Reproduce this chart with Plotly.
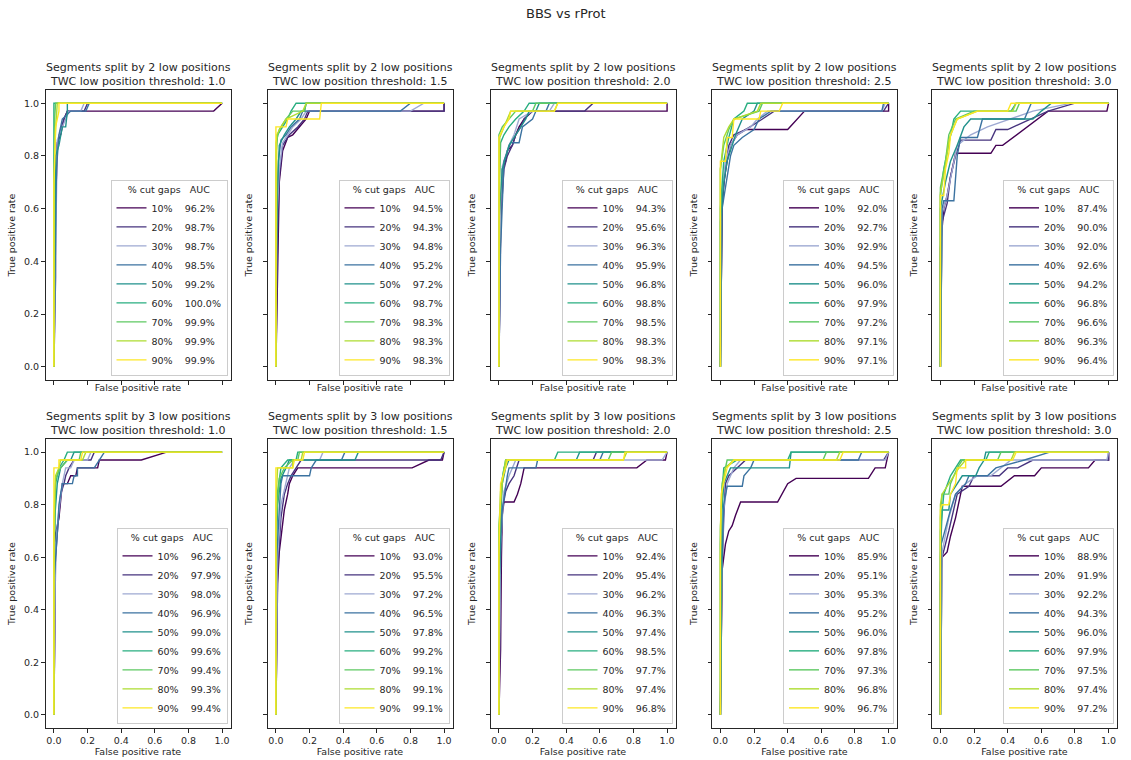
import plotly.graph_objects as go

# ---------------- data ----------------
CUT_GAPS = [10, 20, 30, 40, 50, 60, 70, 80, 90]
LOW_POSITIONS = [2, 3]
THRESHOLDS = [1.0, 1.5, 2.0, 2.5, 3.0]
TICKS = [0.0, 0.2, 0.4, 0.6, 0.8, 1.0]
COLORS = ["#440154", "#46337e", "#9ea9d2", "#3b72a0", "#21918c",
          "#28ae80", "#5ec962", "#addc30", "#fde725"]

AUC_2_10 = [96.2, 98.7, 98.7, 98.5, 99.2, 100.0, 99.9, 99.9, 99.9]
AUC_2_15 = [94.5, 94.3, 94.8, 95.2, 97.2, 98.7, 98.3, 98.3, 98.3]
AUC_2_20 = [94.3, 95.6, 96.3, 95.9, 96.8, 98.8, 98.5, 98.3, 98.3]
AUC_2_25 = [92.0, 92.7, 92.9, 94.5, 96.0, 97.9, 97.2, 97.1, 97.1]
AUC_2_30 = [87.4, 90.0, 92.0, 92.6, 94.2, 96.8, 96.6, 96.3, 96.4]
AUC_3_10 = [96.2, 97.9, 98.0, 96.9, 99.0, 99.6, 99.4, 99.3, 99.4]
AUC_3_15 = [93.0, 95.5, 97.2, 96.5, 97.8, 99.2, 99.1, 99.1, 99.1]
AUC_3_20 = [92.4, 95.4, 96.2, 96.3, 97.4, 98.5, 97.7, 97.4, 96.8]
AUC_3_25 = [85.9, 95.1, 95.3, 95.2, 96.0, 97.8, 97.3, 96.8, 96.7]
AUC_3_30 = [88.9, 91.9, 92.2, 94.3, 96.0, 97.9, 97.5, 97.4, 97.2]

# ROC curves, one list of (FPR, TPR) points per % cut gaps
ROC_2_10 = [
    [(0, 0), (0, 0.15), (0.01, 0.6), (0.02, 0.85), (0.04, 0.88), (0.06, 0.94), (0.08, 0.97), (0.95, 0.97), (1.0, 1.0)],
    [(0, 0), (0.01, 0.34), (0.01, 0.6), (0.02, 0.84), (0.04, 0.9), (0.06, 0.94), (0.08, 0.97), (0.18, 0.97), (0.2, 1.0), (1, 1)],
    [(0, 0), (0.01, 0.5), (0.02, 0.86), (0.05, 0.91), (0.07, 0.94), (0.09, 0.97), (0.16, 0.97), (0.18, 1.0), (1, 1)],
    [(0, 0), (0.01, 0.4), (0.015, 0.75), (0.03, 0.88), (0.05, 0.94), (0.1, 0.97), (0.19, 0.97), (0.21, 1.0), (1, 1)],
    [(0, 0), (0.005, 0.43), (0.01, 0.8), (0.03, 0.84), (0.05, 0.91), (0.07, 0.91), (0.08, 0.97), (0.08, 1.0), (1, 1)],
    [(0, 0), (0, 1.0), (1, 1)],
    [(0, 0), (0, 0.65), (0.005, 0.95), (0.01, 1.0), (1, 1)],
    [(0, 0), (0, 0.68), (0.01, 0.9), (0.02, 1.0), (1, 1)],
    [(0, 0), (0, 0.69), (0.01, 0.91), (0.03, 0.97), (0.03, 1.0), (1, 1)],
]
ROC_2_15 = [
    [(0, 0), (0.01, 0.45), (0.02, 0.7), (0.04, 0.82), (0.07, 0.87), (0.1, 0.88), (0.14, 0.91), (0.18, 0.94), (0.2, 0.97), (1.0, 0.97), (1.0, 1.0)],
    [(0, 0), (0.01, 0.5), (0.02, 0.72), (0.04, 0.84), (0.08, 0.88), (0.13, 0.91), (0.17, 0.94), (0.19, 0.97), (1.0, 0.97), (1.0, 1.0)],
    [(0, 0), (0.005, 0.55), (0.02, 0.75), (0.04, 0.85), (0.07, 0.88), (0.1, 0.91), (0.15, 0.94), (0.18, 0.97), (0.8, 0.97), (0.88, 1.0), (1, 1)],
    [(0, 0), (0.005, 0.6), (0.015, 0.78), (0.03, 0.86), (0.06, 0.88), (0.09, 0.91), (0.14, 0.94), (0.16, 0.97), (0.74, 0.97), (0.8, 1.0), (1, 1)],
    [(0, 0), (0, 0.3), (0.01, 0.7), (0.02, 0.84), (0.05, 0.88), (0.08, 0.91), (0.12, 0.94), (0.15, 0.97), (0.17, 0.97), (0.18, 1.0), (1, 1)],
    [(0, 0), (0, 0.8), (0.01, 0.88), (0.04, 0.91), (0.07, 0.94), (0.09, 0.97), (0.12, 1.0), (1, 1)],
    [(0, 0), (0, 0.85), (0.02, 0.9), (0.06, 0.94), (0.1, 0.97), (0.17, 0.97), (0.18, 1.0), (1, 1)],
    [(0, 0), (0.005, 0.88), (0.03, 0.91), (0.06, 0.94), (0.16, 0.97), (0.18, 1.0), (1, 1)],
    [(0, 0), (0, 0.91), (0.06, 0.91), (0.07, 0.94), (0.26, 0.94), (0.27, 1.0), (1, 1)],
]
ROC_2_20 = [
    [(0, 0), (0.01, 0.5), (0.02, 0.75), (0.04, 0.78), (0.05, 0.82), (0.08, 0.84), (0.1, 0.88), (0.12, 0.91), (0.15, 0.94), (0.2, 0.97), (1.0, 0.97), (1, 1)],
    [(0, 0), (0.01, 0.55), (0.03, 0.75), (0.05, 0.8), (0.08, 0.84), (0.1, 0.88), (0.13, 0.91), (0.15, 0.94), (0.2, 0.97), (0.51, 0.97), (0.56, 1.0), (1, 1)],
    [(0, 0), (0.01, 0.6), (0.02, 0.76), (0.06, 0.84), (0.09, 0.88), (0.12, 0.94), (0.2, 0.97), (0.3, 0.97), (0.33, 1.0), (1, 1)],
    [(0, 0), (0.01, 0.45), (0.03, 0.78), (0.07, 0.85), (0.12, 0.85), (0.14, 0.91), (0.2, 0.94), (0.22, 0.97), (0.28, 0.97), (0.3, 1.0), (1, 1)],
    [(0, 0), (0, 0.55), (0.02, 0.75), (0.06, 0.84), (0.1, 0.88), (0.13, 0.91), (0.16, 0.94), (0.18, 0.97), (0.22, 0.97), (0.24, 1.0), (1, 1)],
    [(0, 0), (0, 0.62), (0.01, 0.85), (0.03, 0.88), (0.06, 0.91), (0.1, 0.94), (0.15, 0.97), (0.18, 1.0), (1, 1)],
    [(0, 0), (0, 0.88), (0.02, 0.91), (0.06, 0.94), (0.1, 0.97), (0.2, 0.97), (0.22, 1.0), (1, 1)],
    [(0, 0), (0.005, 0.87), (0.03, 0.91), (0.05, 0.94), (0.07, 0.97), (0.33, 0.97), (0.35, 1.0), (1, 1)],
    [(0, 0), (0, 0.87), (0.03, 0.91), (0.06, 0.94), (0.07, 0.97), (0.33, 0.97), (0.35, 1.0), (1, 1)],
]
ROC_2_25 = [
    [(0, 0), (0.01, 0.6), (0.02, 0.7), (0.04, 0.78), (0.06, 0.84), (0.1, 0.88), (0.15, 0.9), (0.4, 0.9), (0.5, 0.97), (1, 0.97), (1, 1)],
    [(0, 0), (0.01, 0.62), (0.03, 0.75), (0.05, 0.84), (0.08, 0.88), (0.15, 0.9), (0.25, 0.94), (0.32, 0.97), (0.97, 0.97), (1, 1)],
    [(0, 0), (0.005, 0.63), (0.03, 0.78), (0.06, 0.84), (0.1, 0.88), (0.18, 0.91), (0.22, 0.94), (0.28, 0.97), (0.96, 0.97), (0.98, 1.0), (1, 1)],
    [(0, 0), (0.01, 0.6), (0.04, 0.72), (0.06, 0.8), (0.08, 0.84), (0.13, 0.87), (0.2, 0.9), (0.23, 0.94), (0.3, 0.97), (0.96, 0.97), (0.97, 1.0), (1, 1)],
    [(0, 0), (0, 0.55), (0.02, 0.7), (0.04, 0.78), (0.07, 0.84), (0.09, 0.88), (0.13, 0.94), (0.2, 0.97), (0.22, 1.0), (1, 1)],
    [(0, 0), (0, 0.6), (0.02, 0.78), (0.05, 0.87), (0.08, 0.94), (0.14, 0.97), (0.16, 1.0), (1, 1)],
    [(0, 0), (0, 0.75), (0.02, 0.84), (0.05, 0.9), (0.08, 0.94), (0.23, 0.97), (0.25, 1.0), (1, 1)],
    [(0, 0), (0, 0.75), (0.02, 0.87), (0.05, 0.91), (0.08, 0.94), (0.22, 0.97), (0.24, 1.0), (1, 1)],
    [(0, 0), (0, 0.78), (0.03, 0.78), (0.04, 0.87), (0.07, 0.87), (0.08, 0.94), (0.23, 0.94), (0.24, 0.97), (0.35, 0.97), (0.37, 1.0), (1, 1)],
]
ROC_2_30 = [
    [(0, 0), (0, 0.45), (0.02, 0.6), (0.04, 0.65), (0.06, 0.72), (0.09, 0.81), (0.3, 0.81), (0.33, 0.84), (0.37, 0.84), (0.64, 0.97), (0.99, 0.97), (1, 1)],
    [(0, 0), (0.01, 0.55), (0.04, 0.62), (0.06, 0.72), (0.09, 0.8), (0.12, 0.86), (0.3, 0.86), (0.33, 0.9), (0.4, 0.9), (0.64, 0.97), (0.8, 1.0), (1, 1)],
    [(0, 0), (0.01, 0.58), (0.04, 0.65), (0.07, 0.75), (0.1, 0.84), (0.18, 0.88), (0.28, 0.91), (0.55, 0.97), (0.78, 1.0), (1, 1)],
    [(0, 0), (0.01, 0.6), (0.02, 0.63), (0.08, 0.63), (0.1, 0.8), (0.12, 0.87), (0.22, 0.87), (0.25, 0.94), (0.5, 0.94), (0.54, 1.0), (1, 1)],
    [(0, 0), (0, 0.6), (0.03, 0.7), (0.06, 0.78), (0.1, 0.84), (0.14, 0.91), (0.18, 0.94), (0.55, 0.94), (0.6, 0.97), (0.66, 1.0), (1, 1)],
    [(0, 0), (0, 0.65), (0.02, 0.75), (0.05, 0.84), (0.08, 0.94), (0.12, 0.97), (0.42, 0.97), (0.45, 1.0), (1, 1)],
    [(0, 0), (0, 0.68), (0.03, 0.78), (0.05, 0.88), (0.09, 0.94), (0.2, 0.97), (0.45, 0.97), (0.47, 1.0), (1, 1)],
    [(0, 0), (0, 0.66), (0.03, 0.76), (0.05, 0.86), (0.08, 0.91), (0.1, 0.94), (0.22, 0.97), (0.43, 0.97), (0.45, 1.0), (1, 1)],
    [(0, 0), (0, 0.65), (0.02, 0.65), (0.03, 0.75), (0.05, 0.81), (0.06, 0.88), (0.1, 0.94), (0.22, 0.97), (0.4, 0.97), (0.42, 1.0), (1, 1)],
]
ROC_3_10 = [
    [(0, 0), (0.005, 0.5), (0.01, 0.69), (0.03, 0.75), (0.04, 0.81), (0.05, 0.88), (0.08, 0.88), (0.1, 0.91), (0.13, 0.91), (0.14, 0.94), (0.26, 0.94), (0.27, 0.97), (0.52, 0.97), (0.67, 1.0), (1, 1)],
    [(0, 0), (0.01, 0.6), (0.02, 0.69), (0.03, 0.78), (0.04, 0.84), (0.06, 0.88), (0.07, 0.91), (0.09, 0.94), (0.12, 0.97), (0.22, 0.97), (0.24, 1.0), (1, 1)],
    [(0, 0), (0.01, 0.65), (0.03, 0.78), (0.05, 0.88), (0.07, 0.94), (0.1, 0.94), (0.12, 0.97), (0.2, 0.97), (0.22, 1.0), (1, 1)],
    [(0, 0), (0, 0.5), (0.02, 0.69), (0.03, 0.8), (0.05, 0.88), (0.11, 0.88), (0.12, 0.91), (0.14, 0.91), (0.14, 0.94), (0.24, 0.94), (0.27, 0.97), (0.3, 1.0), (1, 1)],
    [(0, 0), (0.005, 0.75), (0.02, 0.88), (0.04, 0.94), (0.08, 0.97), (0.1, 0.97), (0.12, 1.0), (1, 1)],
    [(0, 0), (0, 0.56), (0.01, 0.88), (0.03, 0.94), (0.06, 0.97), (0.08, 1.0), (1, 1)],
    [(0, 0), (0, 0.6), (0.01, 0.9), (0.04, 0.94), (0.08, 0.97), (0.15, 0.97), (0.16, 1.0), (1, 1)],
    [(0, 0), (0, 0.75), (0.01, 0.91), (0.03, 0.94), (0.04, 0.97), (0.17, 0.97), (0.19, 1.0), (1, 1)],
    [(0, 0), (0, 0.94), (0.03, 0.94), (0.03, 0.97), (0.16, 0.97), (0.17, 1.0), (1, 1)],
]
ROC_3_15 = [
    [(0, 0), (0.01, 0.5), (0.02, 0.62), (0.04, 0.72), (0.05, 0.78), (0.07, 0.84), (0.08, 0.88), (0.1, 0.91), (0.13, 0.94), (0.81, 0.94), (0.91, 0.97), (0.99, 0.97), (1, 1)],
    [(0, 0), (0.01, 0.55), (0.03, 0.75), (0.05, 0.84), (0.07, 0.88), (0.09, 0.91), (0.12, 0.94), (0.15, 0.97), (0.98, 0.97), (1, 1)],
    [(0, 0), (0.01, 0.6), (0.03, 0.8), (0.06, 0.88), (0.08, 0.94), (0.11, 0.97), (0.26, 0.97), (0.28, 1.0), (1, 1)],
    [(0, 0), (0.005, 0.6), (0.02, 0.78), (0.03, 0.88), (0.04, 0.91), (0.2, 0.91), (0.21, 0.94), (0.24, 0.97), (0.39, 0.97), (0.41, 1.0), (1, 1)],
    [(0, 0), (0, 0.55), (0.01, 0.8), (0.03, 0.9), (0.06, 0.94), (0.08, 0.97), (0.47, 0.97), (0.49, 1.0), (1, 1)],
    [(0, 0), (0, 0.7), (0.01, 0.85), (0.03, 0.94), (0.07, 0.97), (0.12, 0.97), (0.13, 1.0), (1, 1)],
    [(0, 0), (0, 0.72), (0.02, 0.9), (0.05, 0.94), (0.1, 0.97), (0.13, 0.97), (0.14, 1.0), (1, 1)],
    [(0, 0), (0, 0.8), (0.01, 0.94), (0.1, 0.94), (0.1, 0.97), (0.15, 0.97), (0.16, 1.0), (1, 1)],
    [(0, 0), (0, 0.94), (0.1, 0.94), (0.11, 0.97), (0.16, 0.97), (0.17, 1.0), (1, 1)],
]
ROC_3_20 = [
    [(0, 0), (0.01, 0.25), (0.015, 0.6), (0.02, 0.76), (0.03, 0.81), (0.09, 0.81), (0.11, 0.84), (0.13, 0.88), (0.14, 0.91), (0.15, 0.94), (0.82, 0.94), (0.88, 0.97), (0.99, 0.97), (1, 1)],
    [(0, 0), (0.01, 0.6), (0.02, 0.78), (0.04, 0.85), (0.06, 0.88), (0.09, 0.91), (0.12, 0.97), (0.56, 0.97), (0.58, 1.0), (1, 1)],
    [(0, 0), (0.01, 0.65), (0.03, 0.85), (0.06, 0.91), (0.08, 0.94), (0.1, 0.97), (0.97, 0.97), (1, 1)],
    [(0, 0), (0, 0.5), (0.02, 0.78), (0.04, 0.88), (0.05, 0.91), (0.06, 0.94), (0.22, 0.94), (0.23, 0.97), (0.6, 0.97), (0.62, 1.0), (1, 1)],
    [(0, 0), (0, 0.28), (0.005, 0.55), (0.01, 0.75), (0.02, 0.88), (0.04, 0.94), (0.06, 0.97), (0.46, 0.97), (0.48, 1.0), (1, 1)],
    [(0, 0), (0, 0.62), (0.01, 0.8), (0.02, 0.9), (0.04, 0.97), (0.33, 0.97), (0.35, 1.0), (1, 1)],
    [(0, 0), (0, 0.7), (0.01, 0.85), (0.03, 0.94), (0.05, 0.97), (0.65, 0.97), (0.67, 1.0), (1, 1)],
    [(0, 0), (0, 0.72), (0.02, 0.88), (0.04, 0.97), (0.74, 0.97), (0.76, 1.0), (1, 1)],
    [(0, 0), (0, 0.6), (0.01, 0.88), (0.04, 0.94), (0.05, 0.97), (0.74, 0.97), (0.75, 1.0), (1, 1)],
]
ROC_3_25 = [
    [(0, 0), (0.01, 0.45), (0.01, 0.55), (0.02, 0.6), (0.03, 0.65), (0.05, 0.7), (0.07, 0.72), (0.09, 0.76), (0.12, 0.81), (0.34, 0.81), (0.4, 0.88), (0.45, 0.9), (0.88, 0.9), (0.92, 0.94), (0.98, 0.94), (1, 1)],
    [(0, 0), (0.01, 0.55), (0.02, 0.75), (0.03, 0.88), (0.05, 0.91), (0.1, 0.94), (0.15, 0.97), (0.97, 0.97), (1, 1)],
    [(0, 0), (0.01, 0.6), (0.02, 0.78), (0.04, 0.88), (0.08, 0.94), (0.12, 0.97), (0.98, 0.97), (1, 1)],
    [(0, 0), (0.005, 0.5), (0.02, 0.8), (0.04, 0.87), (0.13, 0.87), (0.14, 0.91), (0.18, 0.94), (0.2, 0.97), (0.82, 0.97), (0.84, 1.0), (1, 1)],
    [(0, 0), (0.005, 0.45), (0.01, 0.78), (0.02, 0.88), (0.04, 0.91), (0.06, 0.94), (0.41, 0.94), (0.42, 1.0), (1, 1)],
    [(0, 0), (0, 0.65), (0.01, 0.85), (0.02, 0.94), (0.1, 0.97), (0.4, 0.97), (0.42, 1.0), (1, 1)],
    [(0, 0), (0, 0.7), (0.01, 0.88), (0.03, 0.94), (0.04, 0.97), (0.61, 0.97), (0.63, 1.0), (1, 1)],
    [(0, 0), (0, 0.72), (0.01, 0.86), (0.03, 0.94), (0.08, 0.97), (0.69, 0.97), (0.71, 1.0), (1, 1)],
    [(0, 0), (0, 0.6), (0.005, 0.84), (0.02, 0.88), (0.04, 0.94), (0.08, 0.97), (0.71, 0.97), (0.73, 1.0), (1, 1)],
]
ROC_3_30 = [
    [(0, 0), (0, 0.5), (0.01, 0.6), (0.04, 0.62), (0.06, 0.68), (0.09, 0.75), (0.12, 0.84), (0.13, 0.87), (0.36, 0.87), (0.44, 0.91), (0.56, 0.91), (0.6, 0.94), (0.88, 0.94), (0.92, 0.97), (1.0, 0.97), (1, 1)],
    [(0, 0), (0.01, 0.6), (0.05, 0.7), (0.08, 0.78), (0.1, 0.84), (0.17, 0.87), (0.2, 0.91), (0.35, 0.91), (0.4, 0.94), (0.46, 0.94), (0.55, 0.97), (1.0, 0.97), (1, 1)],
    [(0, 0), (0.01, 0.62), (0.05, 0.75), (0.09, 0.84), (0.15, 0.88), (0.22, 0.91), (0.3, 0.91), (0.42, 0.97), (0.99, 0.97), (1, 1)],
    [(0, 0), (0.005, 0.65), (0.06, 0.78), (0.09, 0.84), (0.15, 0.88), (0.17, 0.91), (0.28, 0.91), (0.33, 0.94), (0.5, 0.97), (0.65, 1.0), (1, 1)],
    [(0, 0), (0, 0.6), (0.01, 0.78), (0.05, 0.78), (0.06, 0.84), (0.1, 0.88), (0.13, 0.91), (0.21, 0.91), (0.23, 0.94), (0.26, 0.97), (0.27, 1.0), (1, 1)],
    [(0, 0), (0, 0.7), (0.02, 0.84), (0.06, 0.91), (0.09, 0.94), (0.12, 0.97), (0.27, 0.97), (0.29, 1.0), (1, 1)],
    [(0, 0), (0, 0.75), (0.01, 0.84), (0.05, 0.84), (0.06, 0.88), (0.1, 0.94), (0.13, 0.97), (0.34, 0.97), (0.36, 1.0), (1, 1)],
    [(0, 0), (0, 0.8), (0.01, 0.84), (0.05, 0.88), (0.08, 0.91), (0.11, 0.94), (0.15, 0.97), (0.42, 0.97), (0.44, 1.0), (1, 1)],
    [(0, 0), (0, 0.78), (0.01, 0.8), (0.05, 0.8), (0.06, 0.84), (0.09, 0.88), (0.1, 0.94), (0.15, 0.94), (0.15, 0.97), (0.43, 0.97), (0.45, 1.0), (1, 1)],
]

PANELS = [
    (2, 1.0, AUC_2_10, ROC_2_10), (2, 1.5, AUC_2_15, ROC_2_15), (2, 2.0, AUC_2_20, ROC_2_20),
    (2, 2.5, AUC_2_25, ROC_2_25), (2, 3.0, AUC_2_30, ROC_2_30),
    (3, 1.0, AUC_3_10, ROC_3_10), (3, 1.5, AUC_3_15, ROC_3_15), (3, 2.0, AUC_3_20, ROC_3_20),
    (3, 2.5, AUC_3_25, ROC_3_25), (3, 3.0, AUC_3_30, ROC_3_30),
]

# ---------------- layout geometry (pixels) ----------------
W, H = 1131, 760
COL_LEFT = [45.5, 267.5, 490.5, 712, 932]
AX_W = 185
ROW_TOP = [90, 439]
ROW_BOT = [380, 728]
FONT = "DejaVu Sans, Liberation Sans, sans-serif"
INK = "#262626"

fig = go.Figure()
layout = dict(
    width=W, height=H, margin=dict(l=0, r=0, t=0, b=0),
    paper_bgcolor="white", plot_bgcolor="white",
    font=dict(family=FONT, size=10, color=INK),
    annotations=[], showlegend=True,
)

for k, (low, thr, aucs, rocs) in enumerate(PANELS):
    row, col = divmod(k, 5)
    n = k + 1
    xa = "xaxis" if n == 1 else f"xaxis{n}"
    ya = "yaxis" if n == 1 else f"yaxis{n}"
    xr = "x" if n == 1 else f"x{n}"
    yr = "y" if n == 1 else f"y{n}"
    lg = "legend" if n == 1 else f"legend{n}"

    x0 = COL_LEFT[col] / W
    x1 = (COL_LEFT[col] + AX_W) / W
    y0 = 1 - ROW_BOT[row] / H
    y1 = 1 - ROW_TOP[row] / H

    for i, (cut, auc, pts) in enumerate(zip(CUT_GAPS, aucs, rocs)):
        fig.add_trace(go.Scatter(
            x=[p[0] for p in pts], y=[p[1] for p in pts],
            mode="lines", xaxis=xr, yaxis=yr, legend=lg,
            line=dict(color=COLORS[i], width=1.4),
            name=f"{cut}%&nbsp;&nbsp;&nbsp;&nbsp;{auc:.1f}%",
            hoverinfo="skip",
        ))

    common = dict(
        range=[-0.05, 1.05], tickvals=TICKS, ticktext=[f"{t:.1f}" for t in TICKS],
        ticks="outside", ticklen=3.5, tickwidth=1, tickcolor=INK,
        showgrid=False, zeroline=False, showline=True, mirror=True,
        linecolor=INK, linewidth=1,
        tickfont=dict(size=9.5, color=INK, family=FONT),
    )
    layout[xa] = dict(common, domain=[x0, x1], anchor=yr,
                      showticklabels=(row == 1),
                      title=dict(text="False positive rate", font=dict(size=9.5),
                                 standoff=2 if row == 1 else 0))
    layout[ya] = dict(common, domain=[y0, y1], anchor=xr,
                      showticklabels=(col == 0),
                      title=dict(text="True positive rate", font=dict(size=9.5),
                                 standoff=6 if col == 0 else 8))

    layout[lg] = dict(
        x=(COL_LEFT[col] + AX_W - 3) / W, xanchor="right", xref="paper",
        y=1 - (ROW_BOT[row] - 4) / H, yanchor="bottom", yref="paper",
        bgcolor="rgba(255,255,255,0.85)", bordercolor="#cccccc", borderwidth=1,
        font=dict(size=9.5, color=INK, family=FONT),
        title=dict(text="% cut gaps&nbsp;&nbsp;&nbsp;AUC", side="top center",
                   font=dict(size=9.5, color=INK, family=FONT)),
        itemwidth=30, tracegroupgap=0,
    )

    layout["annotations"].append(dict(
        text=f"Segments split by {low} low positions<br>TWC low position threshold: {thr:.1f}",
        x=(x0 + x1) / 2, y=1 - ROW_TOP[row] / H, xref="paper", yref="paper",
        xanchor="center", yanchor="bottom", showarrow=False,
        font=dict(size=11, color=INK, family=FONT),
    ))

layout["annotations"].append(dict(
    text="BBS vs rProt", x=0.5, y=1 - 14 / H, xref="paper", yref="paper",
    xanchor="center", yanchor="middle", showarrow=False,
    font=dict(size=13, color=INK, family=FONT),
))

fig.update_layout(**layout)
fig.write_html("out.html")
